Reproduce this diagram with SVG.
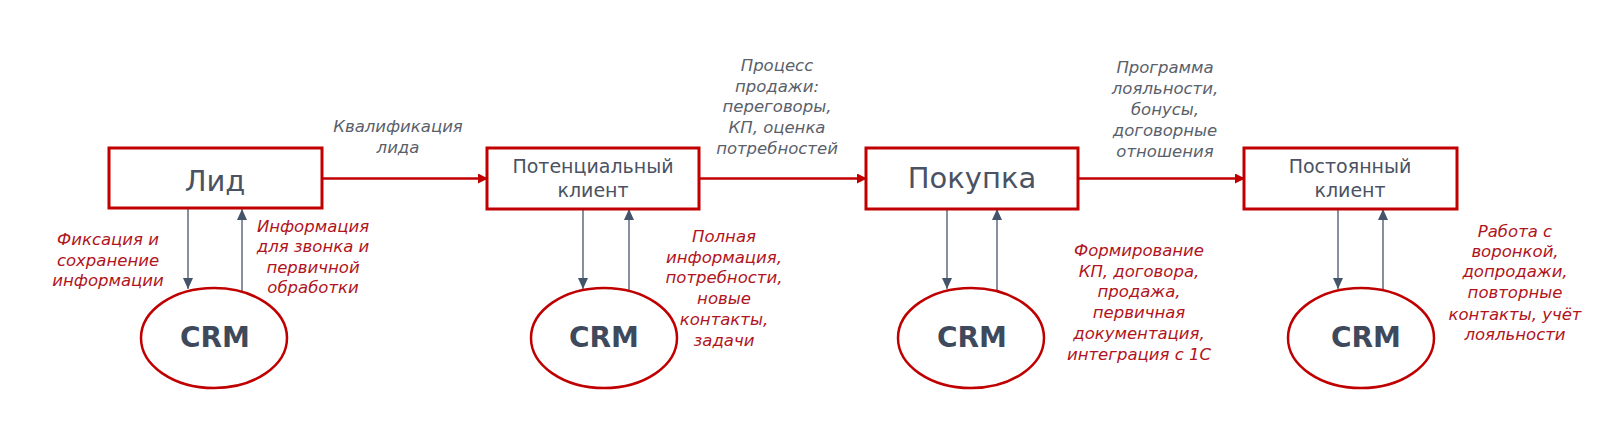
<svg xmlns="http://www.w3.org/2000/svg" width="1600" height="427" viewBox="0 0 1600 427">
<style>
.box{fill:#fff;stroke:#c00000;stroke-width:3}
.crm{fill:#fff;stroke:#c00000;stroke-width:2.5}
.t{font-family:"DejaVu Sans","Noto Sans",sans-serif;fill:#4a5263;text-anchor:middle}
.big{font-size:29px}
.mid{font-size:19px}
.crmt{font-family:"DejaVu Sans","Noto Sans",sans-serif;font-weight:bold;font-size:28px;fill:#3e4a5c;text-anchor:middle}
.lg{font-family:"DejaVu Sans","Noto Sans",sans-serif;font-style:italic;font-size:16.5px;fill:#5a5f6b;text-anchor:middle}
.lr{font-family:"DejaVu Sans","Noto Sans",sans-serif;font-style:italic;font-size:16.5px;fill:#b0141c;text-anchor:middle}
.h{stroke:#c00000;stroke-width:2.5;fill:none}
.v{stroke:#44546a;stroke-width:1.3;fill:none}
</style>
<defs>
<marker id="ar" markerWidth="10" markerHeight="10" refX="9" refY="5" orient="auto" markerUnits="userSpaceOnUse"><path d="M0,0 L10,5 L0,10 Z" fill="#c00000"/></marker>
<marker id="av" markerWidth="10" markerHeight="12" refX="11" refY="5" orient="auto" markerUnits="userSpaceOnUse"><path d="M0,0 L11,5 L0,10 Z" fill="#44546a"/></marker>
</defs>
<rect width="1600" height="427" fill="#fff"/>

<g id="connectors">
<line class="h" x1="322" y1="178.5" x2="487" y2="178.5" marker-end="url(#ar)"/>
<line class="h" x1="699" y1="178.5" x2="866" y2="178.5" marker-end="url(#ar)"/>
<line class="h" x1="1078" y1="178.5" x2="1244" y2="178.5" marker-end="url(#ar)"/>
<line class="v" x1="188" y1="209" x2="188" y2="289" marker-end="url(#av)"/>
<line class="v" x1="242" y1="292" x2="242" y2="209" marker-end="url(#av)"/>
<line class="v" x1="583" y1="209" x2="583" y2="289" marker-end="url(#av)"/>
<line class="v" x1="629" y1="292" x2="629" y2="209" marker-end="url(#av)"/>
<line class="v" x1="947" y1="209" x2="947" y2="289" marker-end="url(#av)"/>
<line class="v" x1="997" y1="292" x2="997" y2="209" marker-end="url(#av)"/>
<line class="v" x1="1338" y1="209" x2="1338" y2="289" marker-end="url(#av)"/>
<line class="v" x1="1383" y1="292" x2="1383" y2="209" marker-end="url(#av)"/>
</g>

<g id="lead">
<rect class="box" x="109" y="148" width="213" height="60"/>
<text class="t big" x="215" y="191">Лид</text>
</g>
<g id="potential">
<rect class="box" x="487" y="148" width="212" height="61"/>
<text class="t mid" x="593"><tspan x="593" y="173">Потенциальный</tspan><tspan x="593" y="197">клиент</tspan></text>
</g>
<g id="purchase">
<rect class="box" x="866" y="148" width="212" height="61"/>
<text class="t big" x="972" y="188">Покупка</text>
</g>
<g id="regular">
<rect class="box" x="1244" y="148" width="213" height="61"/>
<text class="t mid" x="1350"><tspan x="1350" y="173">Постоянный</tspan><tspan x="1350" y="197">клиент</tspan></text>
</g>

<g id="crm1">
<ellipse class="crm" cx="214" cy="338" rx="73" ry="50"/>
<text class="crmt" x="215" y="347">CRM</text>
</g>
<g id="crm2">
<ellipse class="crm" cx="604" cy="338" rx="73" ry="50"/>
<text class="crmt" x="604" y="347">CRM</text>
</g>
<g id="crm3">
<ellipse class="crm" cx="971" cy="338" rx="73" ry="50"/>
<text class="crmt" x="972" y="347">CRM</text>
</g>
<g id="crm4">
<ellipse class="crm" cx="1361" cy="338" rx="73" ry="50"/>
<text class="crmt" x="1366" y="347">CRM</text>
</g>

<g id="labels">
<text class="lg"><tspan x="398" y="132">Квалификация</tspan><tspan x="398" y="153">лида</tspan></text>
<text class="lg"><tspan x="777" y="71">Процесс</tspan><tspan x="777" y="92">продажи:</tspan><tspan x="777" y="112">переговоры,</tspan><tspan x="777" y="133">КП, оценка</tspan><tspan x="777" y="154">потребностей</tspan></text>
<text class="lg"><tspan x="1165" y="73">Программа</tspan><tspan x="1165" y="94">лояльности,</tspan><tspan x="1165" y="115">бонусы,</tspan><tspan x="1165" y="136">договорные</tspan><tspan x="1165" y="157">отношения</tspan></text>
<text class="lr"><tspan x="108" y="245">Фиксация и</tspan><tspan x="108" y="266">сохранение</tspan><tspan x="108" y="286">информации</tspan></text>
<text class="lr"><tspan x="313" y="232">Информация</tspan><tspan x="313" y="252">для звонка и</tspan><tspan x="313" y="273">первичной</tspan><tspan x="313" y="293">обработки</tspan></text>
<text class="lr"><tspan x="724" y="242">Полная</tspan><tspan x="724" y="263">информация,</tspan><tspan x="724" y="283">потребности,</tspan><tspan x="724" y="304">новые</tspan><tspan x="724" y="325">контакты,</tspan><tspan x="724" y="346">задачи</tspan></text>
<text class="lr"><tspan x="1139" y="256">Формирование</tspan><tspan x="1139" y="277">КП, договора,</tspan><tspan x="1139" y="297">продажа,</tspan><tspan x="1139" y="318">первичная</tspan><tspan x="1139" y="339">документация,</tspan><tspan x="1139" y="360">интеграция с 1С</tspan></text>
<text class="lr"><tspan x="1515" y="237">Работа с</tspan><tspan x="1515" y="257">воронкой,</tspan><tspan x="1515" y="277">допродажи,</tspan><tspan x="1515" y="298">повторные</tspan><tspan x="1515" y="320">контакты, учёт</tspan><tspan x="1515" y="340">лояльности</tspan></text>
</g>
</svg>
